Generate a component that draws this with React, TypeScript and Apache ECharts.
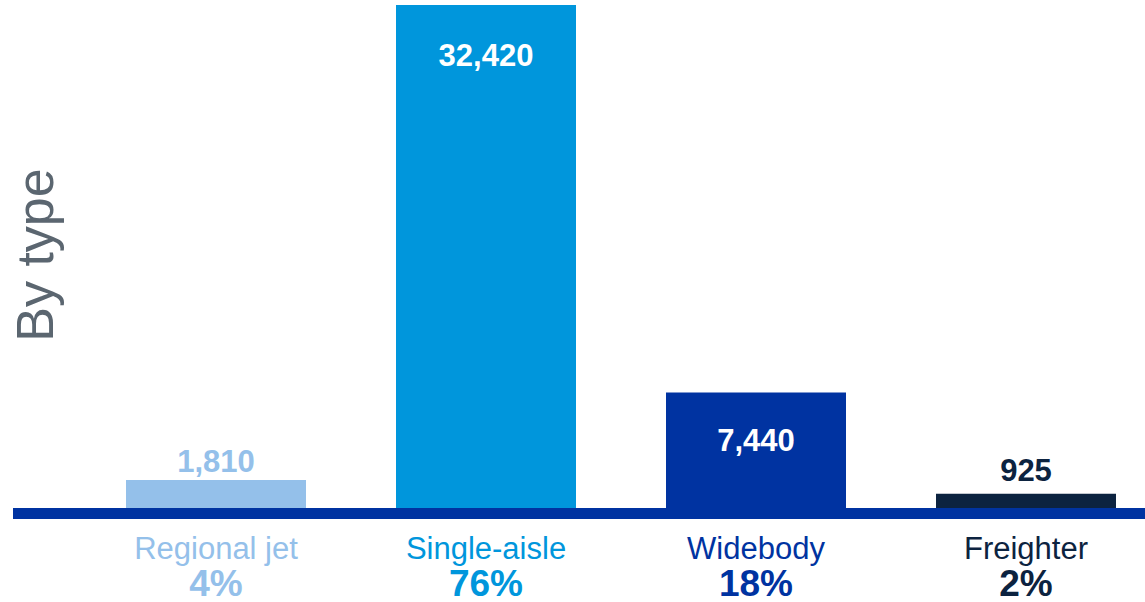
import React, { useEffect, useRef } from "react";
import * as echarts from "echarts";

const categories = ["Regional jet", "Single-aisle", "Widebody", "Freighter"];
const values = [1810, 32420, 7440, 925];
const shares = ["4%", "76%", "18%", "2%"];
const palette = ["#94c0ea", "#0096dc", "#0033a1", "#0c2340"];
const labelInside = [false, true, true, false];
const labelDistance = [3, 35, 32, 8];

export default function App() {
  const ref = useRef<HTMLDivElement>(null);
  useEffect(() => {
    const chart = echarts.init(ref.current!, null, { renderer: "svg" });
    const rich: Record<string, any> = {};
    categories.forEach((_, i) => {
      rich["n" + i] = {
        fontFamily: "Liberation Sans, Arial, sans-serif",
        fontSize: 31,
        color: palette[i],
        lineHeight: 37,
      };
      rich["p" + i] = {
        fontFamily: "Liberation Sans, Arial, sans-serif",
        fontSize: 37,
        fontWeight: "bold",
        color: palette[i],
        lineHeight: 32,
      };
    });
    chart.setOption({
      animation: false,
      grid: { left: 81, top: 5, width: 1080, height: 503, outerBoundsMode: "none", containLabel: false },
      xAxis: {
        type: "category",
        data: categories,
        axisLine: { show: false },
        axisTick: { show: false },
        axisLabel: {
          interval: 0,
          margin: 22,
          rich,
          formatter: (v: string, i: number) => `{n${i}|${v}}\n{p${i}|${shares[i]}}`,
        },
      },
      yAxis: {
        type: "value",
        min: 0,
        max: 32420,
        show: false,
        splitLine: { show: false },
      },
      graphic: [
        {
          type: "rect",
          shape: { x: 13, y: 508, width: 1132, height: 11 },
          style: { fill: "#0033a1" },
          z: 100,
        },
        {
          type: "text",
          x: 35,
          y: 255,
          rotation: Math.PI / 2,
          style: {
            text: "By type",
            fontSize: 52,
            fontFamily: "Liberation Sans, Arial, sans-serif",
            fill: "#5b6670",
            align: "center",
            verticalAlign: "middle",
          },
        },
      ],
      series: [
        {
          type: "bar",
          barWidth: 180,
          data: values.map((v, i) => ({
            value: v,
            itemStyle: { color: palette[i] },
            label: {
              show: true,
              position: labelInside[i] ? "insideTop" : "top",
              distance: labelDistance[i],
              color: labelInside[i] ? "#ffffff" : palette[i],
              fontSize: 31,
              fontWeight: "bold",
              fontFamily: "Liberation Sans, Arial, sans-serif",
              formatter: () => v.toLocaleString("en-US"),
            },
          })),
        },
      ],
    });
    return () => chart.dispose();
  }, []);
  return (
    <div
      ref={ref}
      style={{ position: "fixed", left: 0, top: 0, width: 1145, height: 602, background: "#fff" }}
    />
  );
}
